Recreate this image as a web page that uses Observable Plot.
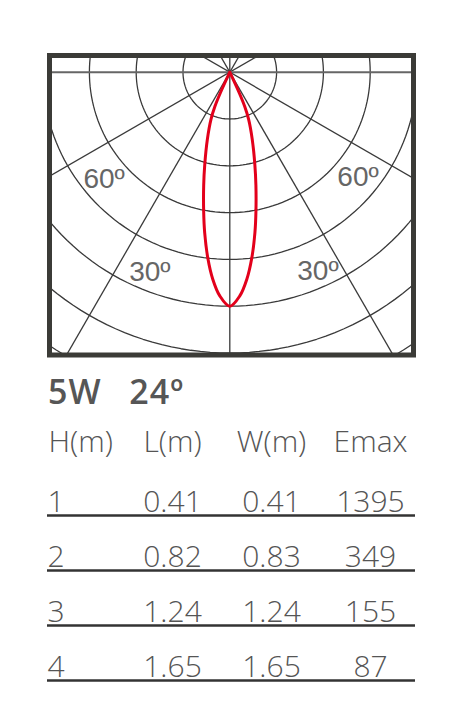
<!DOCTYPE html>
<html><head><meta charset="utf-8">
<script src="https://cdn.jsdelivr.net/npm/d3@7"></script>
<script src="https://cdn.jsdelivr.net/npm/@observablehq/plot@0.6"></script>
<style>
body{margin:0;background:#fff;}
#page{position:relative;width:465px;height:723px;overflow:hidden;}
#polar{position:absolute;left:0;top:0;}
#title{position:absolute;left:48px;top:370px;font:600 34px/42px "Open Sans";color:#565656;white-space:pre;word-spacing:4px;letter-spacing:1px;}
#table{position:absolute;left:0;top:420px;}
</style></head><body>
<div id="page"><div id="polar"></div><div id="title"></div><div id="table"></div></div>
<script>
// ---- polar diagram data ----
// half-lobe: angle from nadir (deg) and relative intensity (ring units)
const lobeAngles = [0, 2.6, 4.7, 6.7, 8.9, 10.7, 13, 15.2, 18.5, 21.8, 23.5, 24.5, 25.2];
const lobeIntensity = [5, 4.78, 4.44, 4.01, 3.47, 3.01, 2.48, 2.04, 1.51, 1.08, 0.8, 0.5, 0];
const ringValues = [1, 2, 3, 4, 5, 6, 7];
const spokeAngles = [0, 30, 60, -30, -60];
const horizonAngle = [90];
const labelText = ["60º", "60º", "30º", "30º"];
const labelAngle = [-49.7, 50.7, -21.8, 23.9];
const labelRadius = [3.52, 3.54, 4.6, 4.65];

// ---- table data ----
const title = "5W  24º";
const columns = ["H(m)", "L(m)", "W(m)", "Emax"];
const heights = [1, 2, 3, 4];
const lengths = ["0.41", "0.82", "1.24", "1.65"];
const widths = ["0.41", "0.83", "1.24", "1.65"];
const emax = [1395, 349, 155, 87];

// ---- polar chart ----
const rad = (a) => a * Math.PI / 180;
const px = (a, r) => r * Math.sin(rad(a));
const py = (a, r) => -r * Math.cos(rad(a));

const W = 465, H = 370;
const cx = 229.3, cy = 71.7, ring = 46.8;
const mL = 49, mR = 52, mT = 55, mB = H - 354.5;
const xDomain = [(mL - cx) / ring, (W - mR - cx) / ring];
const yDomain = [-(H - mB - cy) / ring, -(mT - cy) / ring];

const lobe = [];
for (let i = lobeAngles.length - 1; i >= 0; i--) lobe.push({a: -lobeAngles[i], r: lobeIntensity[i]});
for (let i = 1; i < lobeAngles.length; i++) lobe.push({a: lobeAngles[i], r: lobeIntensity[i]});

const ringPts = ringValues.flatMap(r => d3.range(0, 361, 2).map(a => ({r, a})));
const spokeLen = 10;
const labels = labelText.map((t, i) => ({t, a: labelAngle[i], r: labelRadius[i]}));

const polar = Plot.plot({
  width: W, height: H,
  marginLeft: mL, marginRight: mR, marginTop: mT, marginBottom: mB,
  x: {domain: xDomain, axis: null},
  y: {domain: yDomain, axis: null},
  marks: [
    Plot.line(ringPts, {x: d => px(d.a, d.r), y: d => py(d.a, d.r), z: "r", stroke: "#3a3a3a", strokeWidth: 1.3, clip: "frame"}),
    Plot.link(spokeAngles, {x1: a => px(a, -spokeLen), y1: a => py(a, -spokeLen), x2: a => px(a, spokeLen), y2: a => py(a, spokeLen), stroke: "#3a3a3a", strokeWidth: 1.3, clip: "frame"}),
    Plot.link(horizonAngle, {x1: a => px(a, -spokeLen), y1: a => py(a, -spokeLen), x2: a => px(a, spokeLen), y2: a => py(a, spokeLen), stroke: "#666", strokeWidth: 2, clip: "frame"}),
    Plot.text(labels, {x: d => px(d.a, d.r), y: d => py(d.a, d.r), text: "t", fill: "#666", fontSize: 28, fontFamily: "Liberation Sans, Arial, sans-serif"}),
    Plot.line(lobe, {x: d => px(d.a, d.r), y: d => py(d.a, d.r), stroke: "#e3001b", strokeWidth: 3, curve: "catmull-rom"}),
    Plot.frame({stroke: "#3b3b37", strokeWidth: 5})
  ]
});
document.getElementById("polar").append(polar);
document.getElementById("title").textContent = title;

// ---- table ----
const cells = heights.flatMap((h, i) => [
  {col: "L(m)", row: h, text: lengths[i]},
  {col: "W(m)", row: h, text: widths[i]},
  {col: "Emax", row: h, text: String(emax[i])}
]);
const tfont = {fontFamily: "Open Sans, sans-serif", fontWeight: 300, fontSize: 30, fill: "#555", lineAnchor: "bottom"};
const table = Plot.plot({
  width: 465, height: 303,
  marginLeft: 47, marginRight: 50, marginTop: 0, marginBottom: 0,
  x: {type: "point", domain: columns, range: [73, 370], padding: 0, axis: null},
  y: {type: "point", domain: ["head", ...heights], range: [34.5, 256.5], padding: 0, axis: null},
  marks: [
    Plot.text(columns.slice(0, 1), {x: d => d, y: () => "head", text: d => d, textAnchor: "start", dx: -25, dy: -4.5, ...tfont}),
    Plot.text(columns.slice(1), {x: d => d, y: () => "head", text: d => d, dy: -4.5, ...tfont}),
    Plot.text(heights, {x: () => columns[0], y: d => d, text: d => String(d), textAnchor: "start", dx: -26, ...tfont}),
    Plot.text(cells, {x: "col", y: "row", text: "text", ...tfont}),
    Plot.ruleY(heights, {y: d => d, dy: 4, stroke: "#333", strokeWidth: 2.5})
  ]
});
document.getElementById("table").append(table);
</script>
</body></html>
